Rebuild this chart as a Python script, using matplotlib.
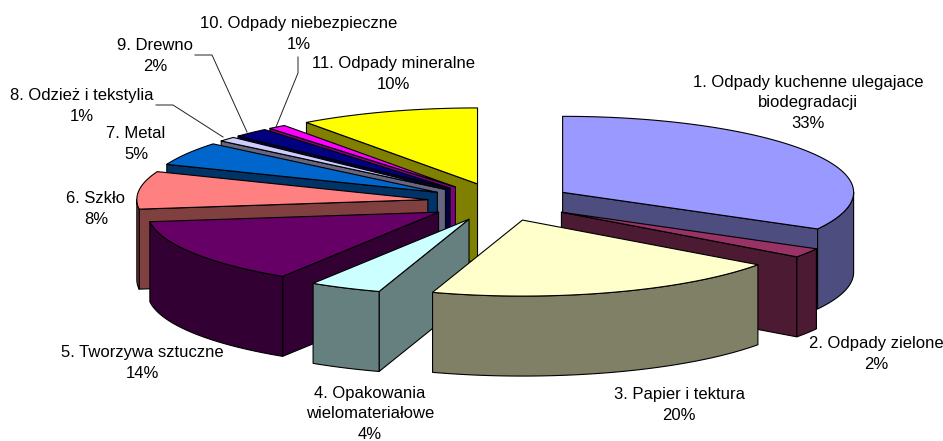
import numpy as np
import matplotlib
matplotlib.use("Agg")
import matplotlib.pyplot as plt
from matplotlib.patches import Polygon

# share of each waste type, %
labels = [
    "1. Odpady kuchenne ulegajace\nbiodegradacji",
    "2. Odpady zielone",
    "3. Papier i tektura",
    "4. Opakowania\nwielomateriałowe",
    "5. Tworzywa sztuczne",
    "6. Szkło",
    "7. Metal",
    "8. Odzież i tekstylia",
    "9. Drewno",
    "10. Odpady niebezpieczne",
    "11. Odpady mineralne",
]
values = [33, 2, 20, 4, 14, 8, 5, 1, 2, 1, 10]
top_colors = ["#9999FF", "#993366", "#FFFFCC", "#CCFFFF", "#660066", "#FF8080",
              "#0066CC", "#CCCCFF", "#000080", "#FF00FF", "#FFFF00"]
side_colors = ["#4D4D80", "#4D1A33", "#808066", "#668080", "#330033", "#804040",
               "#003366", "#666680", "#000040", "#800080", "#808000"]

# text block centres, in pixels of the picture
label_pos = [(808, 103), (876, 354), (679, 405), (370, 414), (142, 363), (96, 209),
             (136, 144), (82, 106), (155, 56), (299, 34), (393, 74)]

# projection of the pie
CX, CY = 500, 202
RX, RY = 291, 76
EXPLODE = 0.25
DEPTH = 80


def rim(theta, apex):
    """Points on the pie rim, theta in degrees clockwise from the top."""
    t = np.radians(theta)
    return np.column_stack([apex[0] + RX * np.sin(t), apex[1] - RY * np.cos(t)])


def draw_face(ax, pts, color):
    ax.add_patch(Polygon(pts, closed=True, facecolor=color, edgecolor="black",
                         linewidth=0.8, joinstyle="round"))


def draw_slice(ax, start, end, top, side):
    mid = np.radians((start + end) / 2)
    apex = (CX + EXPLODE * RX * np.sin(mid), CY - EXPLODE * RY * np.cos(mid))
    down = np.array([0, DEPTH])

    # radial cut faces, only the ones turned to the viewer
    for angle, normal in ((start, start - 90), (end, end + 90)):
        if np.cos(np.radians(normal)) < 0:
            edge = rim(np.array([angle]), apex)[0]
            draw_face(ax, [apex, edge, edge + down, np.array(apex) + down], side)

    # outer wall, front half of the rim only
    lo, hi = max(start, 90), min(end, 270)
    if lo < hi:
        arc = rim(np.linspace(lo, hi, 60), apex)
        draw_face(ax, np.vstack([arc, (arc + down)[::-1]]), side)

    arc = rim(np.linspace(start, end, 120), apex)
    draw_face(ax, np.vstack([[apex], arc]), top)


fig = plt.figure(figsize=(9.43, 4.41), dpi=100)
ax = fig.add_axes([0, 0, 1, 1])
ax.set_xlim(0, 943)
ax.set_ylim(441, 0)
ax.axis("off")

edges = np.cumsum([0] + values) * 3.6

# back to front, the way the slices overlap
for i in [10, 9, 8, 7, 6, 5, 4, 3, 0, 1, 2]:
    draw_slice(ax, edges[i], edges[i + 1], top_colors[i], side_colors[i])

# leader lines of the small slices
ax.plot([156, 173, 223], [105, 105, 137], color="#222222", lw=0.7)
ax.plot([195, 212, 247], [55, 55, 132], color="#222222", lw=0.7)
ax.plot([298, 298, 276], [57, 73, 127], color="#222222", lw=0.7)

for name, value, (x, y) in zip(labels, values, label_pos):
    ax.text(x, y, f"{name}\n{value}%", ha="center", va="center", fontsize=11.95,
            family="Liberation Sans", color="black", linespacing=1.46,
            clip_on=True)

fig.savefig("out.png", dpi=100)
